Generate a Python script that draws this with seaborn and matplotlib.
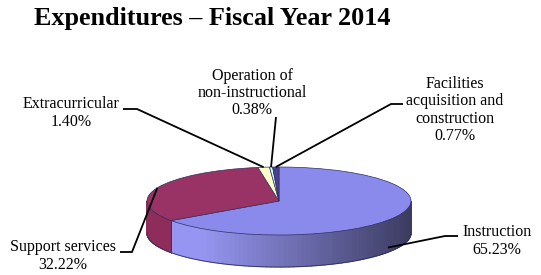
import numpy as np
import matplotlib.pyplot as plt
import seaborn as sns
from matplotlib.collections import PolyCollection
from matplotlib.colors import to_rgb

sns.set_theme(style="white")
plt.rcParams['font.family'] = ['Liberation Serif', 'DejaVu Serif']

# Data
categories = ["Instruction", "Support services", "Extracurricular",
              "Operation of\nnon-instructional",
              "Facilities\nacquisition and\nconstruction"]
shares = [65.23, 32.22, 1.40, 0.38, 0.77]
share_labels = ["65.23%", "32.22%", "1.40%", "0.38%", "0.77%"]

top_colors = ["#8A8AEC", "#993366", "#FFFFCC", "#CCFFFF", "#4B3D8F"]
side_colors = ["#9696F2", "#8E2C5C", "#E6E6B0", "#B0E0E0", "#3E3278"]

# label placement (pixels) and leader elbows
label_pos = [(497, 241), (63, 256), (71, 113), (252, 93), (455, 110)]
leader_elbow = [[(458, 236), (445, 236)], [(120, 252), (132, 252)],
                [(123, 109), (137, 109)], [(276, 117)],
                [(403, 104), (391, 104)]]

W, H = 541, 275
cx, cy, a, b = 279, 201, 132, 34   # pie centre and radii in pixels
depth = 32 / b


def to_data(px, py):
    return (px - cx) / a, (cy - py) / b


fig = plt.figure(figsize=(W / 100, H / 100), dpi=100)
ax = fig.add_axes([0, 0, 1, 1])

wedges, _ = ax.pie(shares, colors=top_colors, startangle=90, counterclock=False,
                   radius=1, center=(0, 0),
                   wedgeprops=dict(edgecolor="#2F2F60", linewidth=0.5, zorder=3))

# side walls of the 3D pie, shaded from left (light) to right (dark)
polys, fcols = [], []
for w, base in zip(wedges, side_colors):
    t = np.radians(np.linspace(w.theta1, w.theta2, 120))
    for t0, t1 in zip(t[:-1], t[1:]):
        if np.sin(t0) > 1e-9 or np.sin(t1) > 1e-9:
            continue
        x0, y0, x1, y1 = np.cos(t0), np.sin(t0), np.cos(t1), np.sin(t1)
        polys.append([(x0, y0), (x1, y1), (x1, y1 - depth), (x0, y0 - depth)])
        f = np.clip(0.78 - 0.38 * np.cos((t0 + t1) / 2), 0.35, 1.0)
        fcols.append(tuple(np.array(to_rgb(base)) * f))
ax.add_collection(PolyCollection(polys, facecolors=fcols, edgecolors=fcols,
                                 linewidths=0.9, zorder=2))

# outline of the bottom rim and the visible seam
tt = np.linspace(np.pi, 2 * np.pi, 200)
ax.plot(np.cos(tt), np.sin(tt) - depth, color="#2F2F60", lw=0.6, zorder=2.5)
for w in wedges:
    th = np.radians(w.theta1)
    if np.sin(th) < 0:
        ax.plot([np.cos(th)] * 2, [np.sin(th), np.sin(th) - depth],
                color="#2F2F60", lw=0.6, zorder=2.5)

# labels and leader lines
for w, cat, lab, pos, elbow in zip(wedges, categories, share_labels,
                                   label_pos, leader_elbow):
    mid = np.radians((w.theta1 + w.theta2) / 2)
    ex, ey = np.cos(mid), np.sin(mid)
    if ey < 0:
        ex, ey = 0.93 * ex, 0.93 * ey - 1.0 * depth
    pts = [to_data(*p) for p in elbow] + [(ex, ey)]
    ax.plot([p[0] for p in pts], [p[1] for p in pts], color="black",
            lw=1.3, zorder=5, solid_capstyle="butt")
    tx, ty = to_data(*pos)
    ax.text(tx, ty, f"{cat}\n{lab}", ha="center", va="center", fontsize=11.5,
            linespacing=1.1, color="black")

ax.set_aspect("auto")
ax.set_xlim(to_data(0, 0)[0], to_data(W, 0)[0])
ax.set_ylim(to_data(0, H)[1], to_data(0, 0)[1])
ax.axis("off")

fig.text(34 / W, 1 - 19 / H, "Expenditures \u2013 Fiscal Year 2014",
         ha="left", va="center", fontsize=18.8, fontweight="bold", color="black")

fig.savefig("out.png", dpi=100)
